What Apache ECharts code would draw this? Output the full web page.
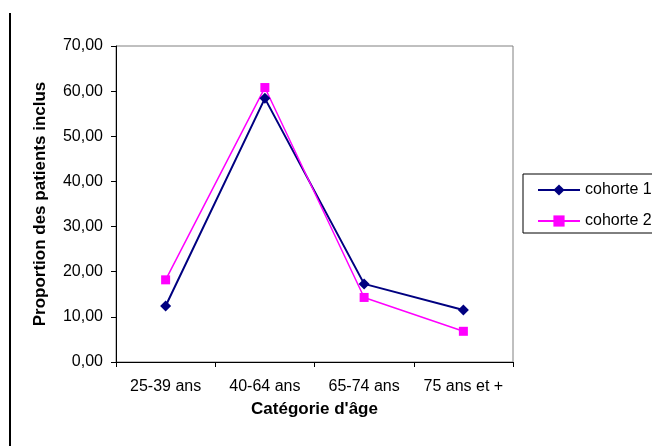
<!DOCTYPE html>
<html>
<head>
<meta charset="utf-8">
<script src="https://cdn.jsdelivr.net/npm/echarts@6/dist/echarts.min.js"></script>
<style>
  html, body { margin: 0; padding: 0; background: #fff; }
  #chart { width: 652px; height: 446px; }
</style>
</head>
<body>
<div id="chart"></div>
<script>
// catégories d'âge
const categories = ['25-39 ans', '40-64 ans', '65-74 ans', '75 ans et +']
const cohorte1 = [12.4, 58.4, 17.3, 11.5]
const cohorte2 = [18.2, 60.8, 14.3, 6.8]

const font = 'Liberation Sans, Arial, sans-serif'

const chart = echarts.init(document.getElementById('chart'))

chart.setOption({
  animation: false,
  textStyle: { fontFamily: font },
  graphic: [{
    type: 'rect',
    shape: { x: 9, y: 13, width: 2, height: 440 },
    style: { fill: '#000' }
  }],
  grid: {
    left: 116, top: 46, width: 397, height: 316,
    show: true, borderColor: '#808080', borderWidth: 1
  },
  legend: {
    left: 523, top: 174,
    orient: 'vertical',
    itemWidth: 42, itemHeight: 14, itemGap: 15,
    padding: [8, 40, 4, 14],
    borderColor: '#000', borderWidth: 1,
    textStyle: { fontFamily: font, fontSize: 16, color: '#000' },
    data: ['cohorte 1', 'cohorte 2']
  },
  xAxis: {
    type: 'category',
    data: categories,
    boundaryGap: true,
    name: "Catégorie d'âge",
    nameLocation: 'middle',
    nameGap: 39,
    nameTextStyle: { fontFamily: font, fontSize: 17, fontWeight: 'bold', color: '#000' },
    axisLine: { lineStyle: { color: '#000', width: 1 } },
    axisTick: { show: true, interval: 0, length: 5, lineStyle: { color: '#000' } },
    axisLabel: { interval: 0, fontFamily: font, fontSize: 16, color: '#000', margin: 17 }
  },
  yAxis: {
    type: 'value',
    min: 0, max: 70, interval: 10,
    name: 'Proportion des patients inclus',
    nameLocation: 'middle',
    nameGap: 67,
    nameTextStyle: { fontFamily: font, fontSize: 17, fontWeight: 'bold', color: '#000' },
    axisLine: { show: true, lineStyle: { color: '#000', width: 1 } },
    axisTick: { show: true, length: 5, lineStyle: { color: '#000' } },
    splitLine: { show: false },
    axisLabel: {
      fontFamily: font, fontSize: 16, color: '#000', margin: 13,
      formatter: v => v.toFixed(2).replace('.', ',')
    }
  },
  series: [{
    name: 'cohorte 1',
    type: 'line',
    data: cohorte1,
    symbol: 'diamond',
    symbolSize: 11,
    itemStyle: { color: '#000080' },
    lineStyle: { color: '#000080', width: 2 }
  }, {
    name: 'cohorte 2',
    type: 'line',
    data: cohorte2,
    symbol: 'rect',
    symbolSize: 9,
    itemStyle: { color: '#FF00FF' },
    lineStyle: { color: '#FF00FF', width: 1.5 }
  }]
})
</script>
</body>
</html>
